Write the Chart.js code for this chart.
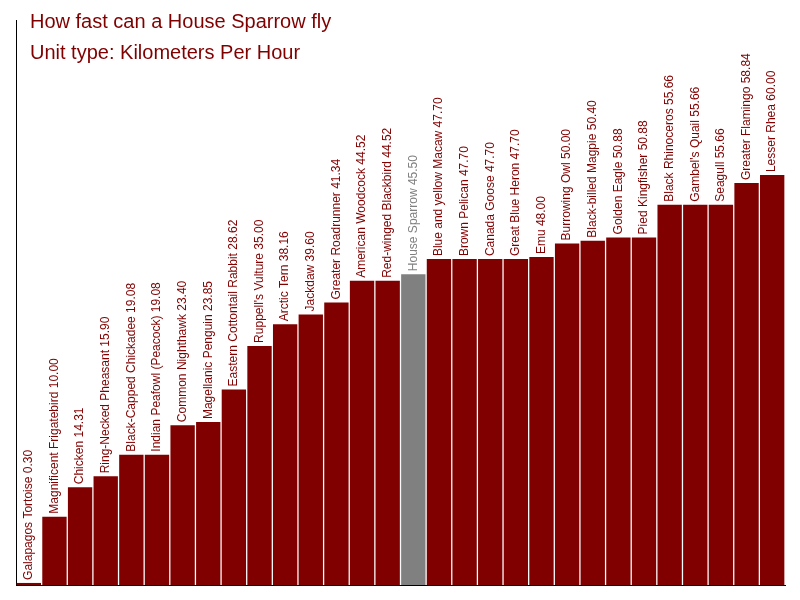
<!DOCTYPE html>
<html><head><meta charset="utf-8">
<script src="https://cdn.jsdelivr.net/npm/chart.js@4"></script>
<style>body{margin:0;background:#fff}</style>
</head><body><canvas id="c" width="800" height="600"></canvas>
<script>
const birds = ["Galapagos Tortoise","Magnificent Frigatebird","Chicken","Ring-Necked Pheasant","Black-Capped Chickadee","Indian Peafowl (Peacock)","Common Nighthawk","Magellanic Penguin","Eastern Cottontail Rabbit","Ruppell's Vulture","Arctic Tern","Jackdaw","Greater Roadrunner","American Woodcock","Red-winged Blackbird","House Sparrow","Blue and yellow Macaw","Brown Pelican","Canada Goose","Great Blue Heron","Emu","Burrowing Owl","Black-billed Magpie","Golden Eagle","Pied Kingfisher","Black Rhinoceros","Gambel's Quail","Seagull","Greater Flamingo","Lesser Rhea"];
const speeds = [0.30,10.00,14.31,15.90,19.08,19.08,23.40,23.85,28.62,35.00,38.16,39.60,41.34,44.52,44.52,45.50,47.70,47.70,47.70,47.70,48.00,50.00,50.40,50.88,50.88,55.66,55.66,55.66,58.84,60.00];
const highlight = "House Sparrow";
const colors = birds.map(b => b === highlight ? "#808080" : "#800000");

const labelPlugin = {
  id: "labels",
  afterDatasetsDraw(chart) {
    const ctx = chart.ctx;
    const meta = chart.getDatasetMeta(0);
    ctx.save();
    ctx.font = "12px Arial, 'Liberation Sans'";
    ctx.textBaseline = "middle";
    ctx.textAlign = "left";
    meta.data.forEach((bar, i) => {
      ctx.save();
      ctx.translate(bar.x, bar.y - 3);
      ctx.rotate(-Math.PI / 2);
      ctx.fillStyle = colors[i];
      ctx.fillText(birds[i] + " " + speeds[i].toFixed(2), 0, 0);
      ctx.restore();
    });
    ctx.fillStyle = "#800000";
    ctx.font = "20px Arial, 'Liberation Sans'";
    ctx.textBaseline = "alphabetic";
    ctx.fillText("How fast can a House Sparrow fly", 30, 28);
    ctx.fillText("Unit type: Kilometers Per Hour", 30, 59);
    ctx.restore();
  }
};

new Chart(document.getElementById("c"), {
  type: "bar",
  data: { labels: birds, datasets: [{ data: speeds, backgroundColor: colors, categoryPercentage: 1, barPercentage: 0.95 }] },
  options: {
    responsive: false, animation: false,
    devicePixelRatio: 1,
    layout: { padding: { left: 16, right: 15, top: 20, bottom: 15 } },
    plugins: { legend: { display: false }, tooltip: { enabled: false } },
    scales: {
      x: { ticks: { display: false }, grid: { display: false, drawTicks: false }, border: { color: "#000" } },
      y: { min: 0, max: 82.7, ticks: { display: false }, grid: { display: false, drawTicks: false }, border: { color: "#000" } }
    }
  },
  plugins: [labelPlugin]
});
</script></body></html>
